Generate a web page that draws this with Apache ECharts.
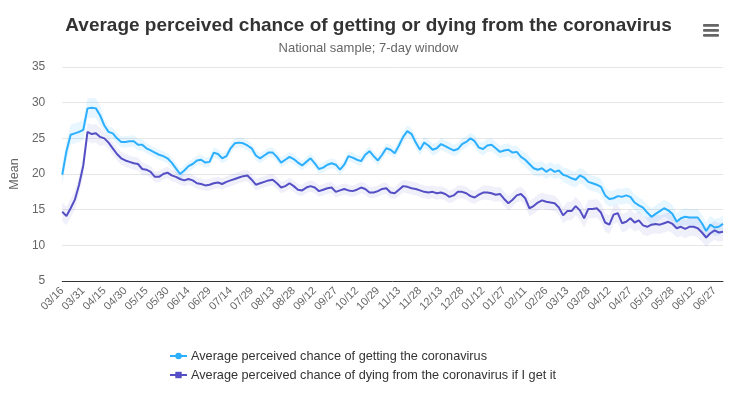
<!DOCTYPE html>
<html>
<head>
<meta charset="utf-8">
<script src="https://cdn.jsdelivr.net/npm/echarts@6/dist/echarts.min.js"></script>
<style>
html,body{margin:0;padding:0;background:#fff;}
#chart{width:737px;height:400px;}
</style>
</head>
<body>
<div id="chart"></div>
<script>
// Dates sampled every third day of the 7-day-window series (2020-03-16 .. 2021-07-03)
const categories = [
'20/03/16','20/03/19','20/03/22','20/03/25','20/03/28','20/03/31','20/04/03','20/04/06','20/04/09','20/04/12',
'20/04/15','20/04/18','20/04/21','20/04/24','20/04/27','20/04/30','20/05/03','20/05/06','20/05/09','20/05/12',
'20/05/15','20/05/18','20/05/21','20/05/24','20/05/27','20/05/30','20/06/02','20/06/05','20/06/08','20/06/11',
'20/06/14','20/06/17','20/06/20','20/06/23','20/06/26','20/06/29','20/07/02','20/07/05','20/07/08','20/07/11',
'20/07/14','20/07/17','20/07/20','20/07/23','20/07/26','20/07/29','20/08/01','20/08/04','20/08/07','20/08/10',
'20/08/13','20/08/16','20/08/19','20/08/22','20/08/25','20/08/28','20/08/31','20/09/03','20/09/06','20/09/09',
'20/09/12','20/09/15','20/09/18','20/09/21','20/09/24','20/09/27','20/09/30','20/10/03','20/10/06','20/10/09',
'20/10/12','20/10/15','20/10/18','20/10/23','20/10/26','20/10/29','20/11/01','20/11/04','20/11/07','20/11/10',
'20/11/13','20/11/16','20/11/19','20/11/22','20/11/25','20/11/28','20/12/01','20/12/04','20/12/07','20/12/10',
'20/12/13','20/12/16','20/12/19','20/12/22','20/12/25','20/12/28','20/12/31','21/01/03','21/01/06','21/01/09',
'21/01/12','21/01/15','21/01/18','21/01/21','21/01/24','21/01/27','21/01/30','21/02/02','21/02/05','21/02/08',
'21/02/11','21/02/14','21/02/17','21/02/20','21/02/23','21/02/26','21/03/01','21/03/04','21/03/07','21/03/10',
'21/03/13','21/03/16','21/03/19','21/03/22','21/03/25','21/03/28','21/03/31','21/04/03','21/04/06','21/04/09',
'21/04/12','21/04/15','21/04/18','21/04/21','21/04/24','21/04/27','21/04/30','21/05/04','21/05/07','21/05/10',
'21/05/13','21/05/16','21/05/19','21/05/22','21/05/25','21/05/28','21/05/31','21/06/03','21/06/06','21/06/09',
'21/06/12','21/06/15','21/06/18','21/06/21','21/06/24','21/06/27','21/06/30','21/07/03'
];

const getChance = [
19.9,23.2,25.5,25.7,25.9,26.2,29.2,29.3,29.2,28.2,
26.8,25.9,25.7,25.0,24.5,24.5,24.6,24.6,24.1,24.1,
23.6,23.3,23.0,22.7,22.5,22.2,21.6,20.8,20.0,20.5,
21.1,21.4,21.9,22.0,21.6,21.7,23.0,22.8,22.2,22.5,
23.6,24.3,24.4,24.3,24.0,23.6,22.6,22.2,22.6,23.0,
23.0,22.4,21.6,22.0,22.4,22.1,21.6,21.2,21.7,22.2,
21.5,20.7,20.9,21.3,21.5,21.3,20.6,21.3,22.5,22.3,
22.0,21.8,22.7,23.2,22.5,21.9,22.7,23.6,23.4,22.9,
24.0,25.2,26.0,25.6,24.4,23.4,24.4,24.0,23.4,23.6,
24.2,23.9,23.6,23.3,23.5,24.2,24.5,25.0,24.6,23.7,
23.5,24.0,24.1,23.6,23.1,23.3,23.4,23.0,23.1,22.4,
22.0,21.4,20.8,20.6,20.8,20.3,20.7,20.3,20.5,19.9,
19.7,19.4,19.2,19.8,19.5,18.9,18.7,18.5,18.2,17.0,
16.5,16.6,16.9,16.8,17.0,16.8,16.0,15.6,15.3,14.6,
14.0,14.4,14.8,15.2,14.9,14.4,13.3,13.8,14.0,13.9,
13.9,13.9,13.1,12.0,12.9,12.5,12.6,13.0
];

const dieChance = [
14.7,14.1,15.2,16.4,18.5,21.2,25.9,25.6,25.7,25.2,
25.0,24.4,23.6,22.8,22.2,21.9,21.7,21.5,21.4,20.7,
20.6,20.3,19.6,19.6,20.0,20.2,19.8,19.6,19.3,19.1,
19.3,19.1,18.7,18.6,18.4,18.5,18.7,18.8,18.6,18.9,
19.1,19.3,19.5,19.7,19.8,19.2,18.5,18.7,18.9,19.1,
19.2,18.7,18.1,18.3,18.7,18.3,17.8,17.7,18.1,18.3,
18.1,17.6,17.8,18.0,18.1,17.5,17.7,17.9,17.7,17.6,
17.8,18.1,17.9,17.4,17.4,17.6,17.9,18.0,17.4,17.3,
17.8,18.3,18.2,18.0,17.9,17.7,17.5,17.4,17.5,17.3,
17.4,17.2,16.8,17.0,17.5,17.5,17.3,16.9,16.7,17.1,
17.4,17.4,17.3,17.1,17.2,16.5,15.9,16.4,17.0,17.2,
16.6,15.2,15.5,16.0,16.3,16.1,16.0,15.9,15.3,14.2,
14.8,14.8,15.5,14.9,13.8,15.1,15.1,15.2,14.6,13.2,
12.9,14.3,14.5,13.1,13.3,13.8,13.2,13.5,12.8,12.6,
12.9,13.0,12.9,13.1,13.3,13.0,12.4,12.6,12.3,12.6,
12.6,12.4,11.8,11.1,11.7,12.1,11.8,11.9
];

// Half-width of the shaded interval, one value per block of 10 samples
const getBandHalf = [1.4,0.8,0.7,0.7,0.7,0.7,0.7,0.7,0.8,0.8,0.9,1.0,1.1,1.1,1.2,1.2];
const dieBandHalf = [1.3,0.9,0.8,0.8,0.8,0.8,0.8,0.8,0.9,0.9,1.0,1.1,1.3,1.3,1.3,1.3];

const yTicks = [5,10,15,20,25,30,35];
const seriesNames = [
  'Average perceived chance of getting the coronavirus',
  'Average perceived chance of dying from the coronavirus if I get it'
];

const r2 = v => Math.round(v*100)/100;
const lowOf = (arr, half) => arr.map((v,i) => r2(v - half[Math.floor(i/10)]));
const widthOf = (arr, half) => arr.map((v,i) => r2(2*half[Math.floor(i/10)]));

const FONT = '"Liberation Sans", Helvetica, Arial, sans-serif';
const BLUE = '#2caffe', PURPLE = '#544fc5';

const chart = echarts.init(document.getElementById('chart'), null, {renderer:'canvas'});
chart.setOption({
  animation: false,
  backgroundColor: '#ffffff',
  textStyle: {fontFamily: FONT},
  title: [
    {text: 'Average perceived chance of getting or dying from the coronavirus', left: 'center', top: 11,
     textStyle: {fontFamily: FONT, fontSize: 19, fontWeight: 'bold', color: '#333333'}},
    {text: 'National sample; 7-day window', left: 'center', top: 37,
     textStyle: {fontFamily: FONT, fontSize: 13, fontWeight: 'normal', color: '#666666'}}
  ],
  graphic: [
    {type:'rect', left: 703, top: 24, shape:{width:16, height:2.8, r:1}, style:{fill:'#666666'}},
    {type:'rect', left: 703, top: 29, shape:{width:16, height:2.8, r:1}, style:{fill:'#666666'}},
    {type:'rect', left: 703, top: 34, shape:{width:16, height:2.8, r:1}, style:{fill:'#666666'}}
  ],
  legend: {
    orient: 'vertical', left: 169, top: 349, itemGap: 5, padding: 0,
    itemWidth: 17, itemHeight: 8,
    data: seriesNames,
    textStyle: {fontFamily: FONT, fontSize: 12.7, color: '#333333', lineHeight: 14, padding: [0,0,0,-1]}
  },
  grid: {left: 60, right: 14, top: 67, bottom: 119, containLabel: false},
  xAxis: {
    type: 'category', data: categories, boundaryGap: false,
    axisLine: {lineStyle: {color: '#333333', width: 1}},
    axisTick: {show: false},
    axisLabel: {interval: 4, rotate: 45, color: '#666666', fontSize: 11, fontFamily: FONT, margin: 8,
      formatter: v => v.slice(3)},
    splitLine: {show: false}
  },
  yAxis: {
    type: 'value', min: yTicks[0], max: yTicks[yTicks.length-1], interval: 5,
    name: 'Mean', nameLocation: 'middle', nameGap: 35,
    nameTextStyle: {color: '#666666', fontSize: 12.5, fontFamily: FONT},
    axisLine: {show: false}, axisTick: {show: false},
    axisLabel: {color: '#666666', fontSize: 12, fontFamily: FONT, margin: 17},
    splitLine: {lineStyle: {color: '#e6e6e6', width: 1}}
  },
  series: [
    {name: 'getLow', type: 'line', stack: 'g', data: lowOf(getChance, getBandHalf), symbol: 'none',
     lineStyle: {opacity: 0}, silent: true, z: 1},
    {name: 'getBand', type: 'line', stack: 'g', data: widthOf(getChance, getBandHalf), symbol: 'none',
     lineStyle: {opacity: 0}, areaStyle: {color: 'rgba(44,175,254,0.16)'}, silent: true, z: 1},
    {name: 'dieLow', type: 'line', stack: 'd', data: lowOf(dieChance, dieBandHalf), symbol: 'none',
     lineStyle: {opacity: 0}, silent: true, z: 1},
    {name: 'dieBand', type: 'line', stack: 'd', data: widthOf(dieChance, dieBandHalf), symbol: 'none',
     lineStyle: {opacity: 0}, areaStyle: {color: 'rgba(84,79,197,0.12)'}, silent: true, z: 1},
    {name: seriesNames[0], type: 'line', data: getChance, color: BLUE, symbol: 'circle', symbolSize: 8,
     showSymbol: false, lineStyle: {width: 2, color: BLUE}, itemStyle: {color: BLUE}, z: 3},
    {name: seriesNames[1], type: 'line', data: dieChance, color: PURPLE, symbol: 'rect', symbolSize: 8,
     showSymbol: false, lineStyle: {width: 2, color: PURPLE}, itemStyle: {color: PURPLE}, z: 3}
  ]
});
</script>
</body>
</html>
